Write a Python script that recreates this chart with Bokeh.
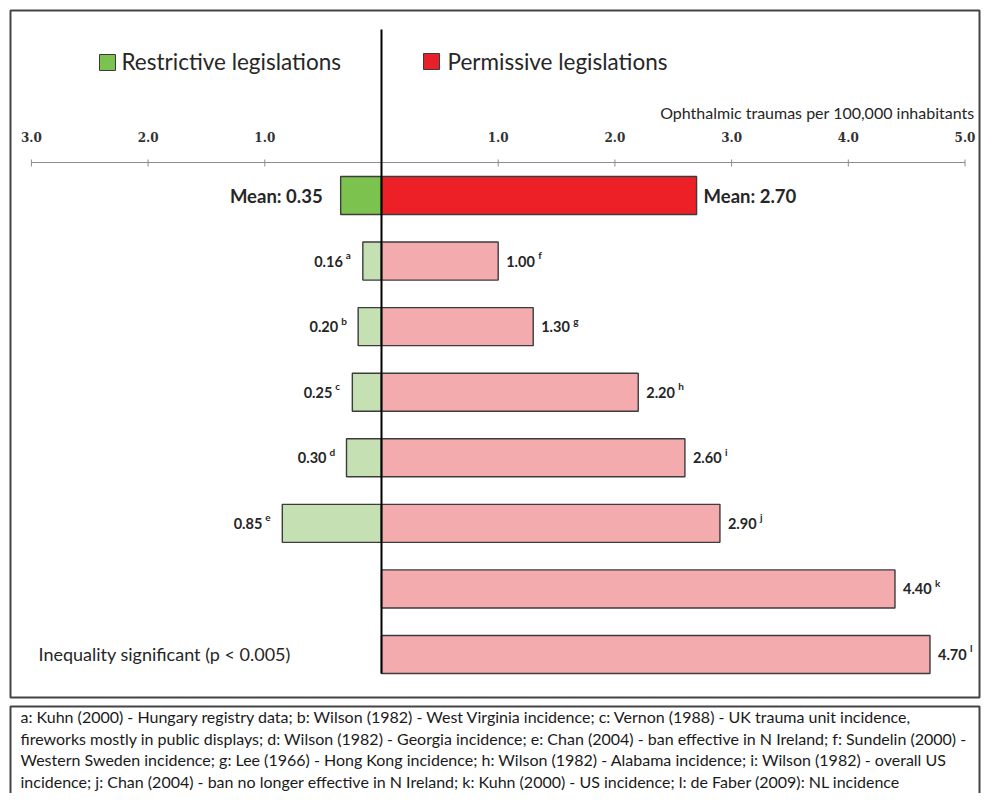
from bokeh.plotting import figure
from bokeh.models import Range1d
from bokeh.core.properties import value
from bokeh.embed import file_html
from bokeh.resources import INLINE

# ---------------- data ----------------
restrictive_values = [0.35, 0.16, 0.20, 0.25, 0.30, 0.85]
restrictive_refs = ["", "a", "b", "c", "d", "e"]
permissive_values = [2.70, 1.00, 1.30, 2.20, 2.60, 2.90, 4.40, 4.70]
permissive_refs = ["", "f", "g", "h", "i", "j", "k", "l"]
tick_values = [-3, -2, -1, 1, 2, 3, 4, 5]
tick_labels = ["3.0", "2.0", "1.0", "1.0", "2.0", "3.0", "4.0", "5.0"]
legend_labels = ["Restrictive legislations", "Permissive legislations"]
axis_title = "Ophthalmic traumas per 100,000 inhabitants"
note_text = "Inequality significant (p < 0.005)"
footnotes = [
    "a:  Kuhn (2000) - Hungary registry data; b: Wilson (1982) - West Virginia incidence; c: Vernon (1988) -  UK trauma unit incidence,",
    "fireworks mostly in public displays; d: Wilson (1982) - Georgia incidence; e: Chan (2004) - ban effective in N Ireland;  f: Sundelin (2000) -",
    "Western Sweden incidence; g: Lee (1966) -  Hong Kong incidence; h: Wilson (1982) - Alabama incidence; i: Wilson (1982) - overall US",
    "incidence; j: Chan (2004) - ban no longer effective in N Ireland; k: Kuhn (2000) - US incidence; l: de Faber (2009): NL incidence",
]

# ---------------- layout ----------------
W, H = 981, 793
PAGE = 0
ZERO_PX = 381.0
UNIT_PX = 116.7
ROW0_PX = 195.0
ROW_PX = 65.57

def px2x(px):
    return (px - ZERO_PX) / UNIT_PX

def py2y(py):
    return (py - ROW0_PX) / ROW_PX

FONT = value("Lato")
DARK = "#262626"

p = figure(width=W, height=H, output_backend="svg", toolbar_location=None,
           x_axis_location=None, y_axis_location=None, min_border=0,
           x_range=Range1d(px2x(PAGE), px2x(PAGE + W)),
           y_range=Range1d(py2y(PAGE + H), py2y(PAGE)))
p.grid.visible = False
p.outline_line_color = None
p.background_fill_color = "white"
p.border_fill_color = "white"

# boxes
p.quad(left=[px2x(10)], right=[px2x(979)], top=[py2y(10)], bottom=[py2y(697)],
       fill_alpha=0, line_color="#444444", line_width=2)
p.quad(left=[px2x(10)], right=[px2x(979)], top=[py2y(706)], bottom=[py2y(830)],
       fill_alpha=0, line_color="#444444", line_width=2)

# legend
p.quad(left=[px2x(99), px2x(423)], right=[px2x(115), px2x(439)],
       top=[py2y(54), py2y(53)], bottom=[py2y(70), py2y(69)],
       fill_color=["#7cc24e", "#e8202a"], line_color="#3a3a3a", line_width=1)
p.text(x=[px2x(121), px2x(447)], y=[py2y(61), py2y(61)], text=legend_labels,
       text_font=FONT, text_font_size="22.5px", text_color=DARK,
       text_baseline="middle", text_align="left")

# axis (top)
p.segment(x0=[tick_values[0]], y0=[py2y(162)], x1=[tick_values[-1]], y1=[py2y(162)],
          line_color="#8c8c8c", line_width=1)
p.segment(x0=tick_values, y0=[py2y(159)] * len(tick_values),
          x1=tick_values, y1=[py2y(166)] * len(tick_values),
          line_color="#8c8c8c", line_width=1)
p.text(x=tick_values, y=[py2y(136)] * len(tick_values), text=tick_labels,
       text_font=value("DejaVu Serif"), text_font_style="bold", text_font_size="12px",
       text_color="#333333", text_baseline="middle", text_align="center")
p.text(x=[px2x(974)], y=[py2y(112)], text=[axis_title], text_font=FONT,
       text_font_size="16px", text_color=DARK, text_baseline="middle", text_align="right")

# bars
r_rows = list(range(len(restrictive_values)))
p_rows = list(range(len(permissive_values)))
p.hbar(y=r_rows, left=[-v for v in restrictive_values], right=0, height=0.58,
       fill_color=["#7cc24e"] + ["#c5e0b3"] * (len(r_rows) - 1),
       line_color="#3c3c3c", line_width=1.4)
p.hbar(y=p_rows, left=0, right=permissive_values, height=0.58,
       fill_color=["#ee2027"] + ["#f4abae"] * (len(p_rows) - 1),
       line_color="#3c3c3c", line_width=1.4)

# center line
p.segment(x0=[0], y0=[py2y(29)], x1=[0], y1=[py2y(673)], line_color="black", line_width=2)

# mean labels
p.text(x=[-restrictive_values[0]], y=[0], text=[f"Mean: {restrictive_values[0]:.2f}"],
       x_offset=-18, text_font=FONT, text_font_style="bold", text_font_size="18.5px",
       text_color=DARK, text_baseline="middle", text_align="right")
p.text(x=[permissive_values[0]], y=[0], text=[f"Mean: {permissive_values[0]:.2f}"],
       x_offset=7, text_font=FONT, text_font_style="bold", text_font_size="18.5px",
       text_color=DARK, text_baseline="middle", text_align="left")

# individual value labels
rx = [-v for v in restrictive_values[1:]]
p.text(x=rx, y=r_rows[1:], text=[f"{v:.2f}" for v in restrictive_values[1:]],
       x_offset=-20, text_font=FONT, text_font_style="bold", text_font_size="14.5px",
       text_color=DARK, text_baseline="middle", text_align="right")
p.text(x=rx, y=r_rows[1:], text=restrictive_refs[1:], x_offset=-17, y_offset=-6,
       text_font=FONT, text_font_style="bold", text_font_size="10px",
       text_color=DARK, text_baseline="middle", text_align="left")
px_ = permissive_values[1:]
p.text(x=px_, y=p_rows[1:], text=[f"{v:.2f}" for v in px_],
       x_offset=8, text_font=FONT, text_font_style="bold", text_font_size="14.5px",
       text_color=DARK, text_baseline="middle", text_align="left")
p.text(x=px_, y=p_rows[1:], text=permissive_refs[1:], x_offset=40, y_offset=-6,
       text_font=FONT, text_font_style="bold", text_font_size="10px",
       text_color=DARK, text_baseline="middle", text_align="left")

# note
p.text(x=[px2x(38)], y=[p_rows[-1]], text=[note_text], text_font=FONT,
       text_font_size="18px", text_color=DARK, text_baseline="middle", text_align="left")

# footnotes
p.text(x=[px2x(20)] * len(footnotes), y=[py2y(716 + 21.5 * i) for i in range(len(footnotes))],
       text=footnotes, text_font=FONT, text_font_size="16px", text_color="#1a1a1a",
       text_baseline="middle", text_align="left")

open("out.html", "w").write(file_html(p, INLINE))
